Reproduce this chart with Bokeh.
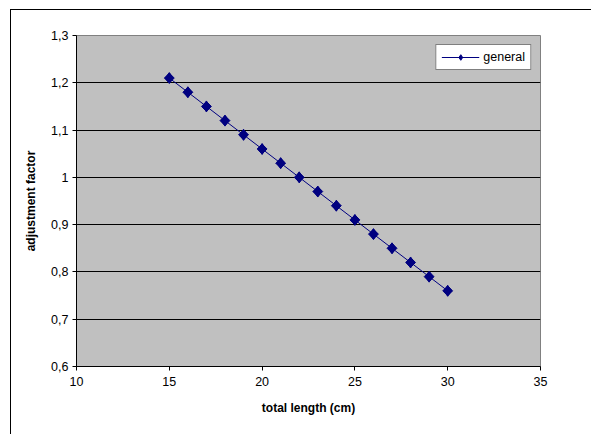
from bokeh.plotting import figure
from bokeh.models import FixedTicker, Legend, LegendItem, Range1d
from bokeh.embed import file_html
from bokeh.resources import INLINE

# Adjustment factor by total length
total_length = [15, 16, 17, 18, 19, 20, 21, 22, 23, 24, 25, 26, 27, 28, 29, 30]
adjustment = [1.21, 1.18, 1.15, 1.12, 1.09, 1.06, 1.03, 1.00,
              0.97, 0.94, 0.91, 0.88, 0.85, 0.82, 0.79, 0.76]
series_name = "general"

x_ticks = [10, 15, 20, 25, 30, 35]
y_ticks = [0.6, 0.7, 0.8, 0.9, 1.0, 1.1, 1.2, 1.3]
y_tick_labels = ["0,6", "0,7", "0,8", "0,9", "1", "1,1", "1,2", "1,3"]

FONT = "Liberation Sans"
NAVY = "#000080"

# chart area starts at (11, 10); its left and top edges carry a border
p = figure(width=581, height=425, output_backend="svg", toolbar_location=None,
           x_range=Range1d(10, 35), y_range=Range1d(0.6, 1.3),
           min_border_left=65, min_border_right=52,
           min_border_top=25, min_border_bottom=69)
p.styles = {"margin-left": "10px", "margin-top": "9px",
            "border-left": "1.5px solid black", "border-top": "1.5px solid black"}

p.background_fill_color = "#C0C0C0"
p.border_fill_color = "white"
p.outline_line_color = "#808080"
p.outline_line_width = 1

# grid: horizontal black lines only
p.xgrid.visible = False
p.ygrid.ticker = FixedTicker(ticks=y_ticks)
p.ygrid.grid_line_color = "black"
p.ygrid.grid_line_width = 1

# axes
p.xaxis.ticker = FixedTicker(ticks=x_ticks)
p.yaxis.ticker = FixedTicker(ticks=y_ticks)
p.yaxis.major_label_overrides = dict(zip(y_ticks, y_tick_labels))
for ax in (p.xaxis, p.yaxis):
    ax.axis_line_color = "black"
    ax.major_tick_line_color = "black"
    ax.major_tick_in = 0
    ax.major_tick_out = 4
    ax.minor_tick_line_color = None
    ax.major_label_text_font = FONT
    ax.major_label_text_font_size = "12.5px"
    ax.major_label_text_color = "black"
    ax.axis_label_text_font = FONT
    ax.axis_label_text_font_size = "12px"
    ax.axis_label_text_font_style = "bold"
    ax.axis_label_text_color = "black"

p.xaxis.axis_label = "total length (cm)"
p.yaxis.axis_label = "adjustment factor"
p.xaxis.major_label_standoff = 6
p.xaxis.axis_label_standoff = 12
p.yaxis.major_label_standoff = 4
p.yaxis.axis_label_standoff = 10

# series line
ln = p.line(total_length, adjustment, line_color=NAVY, line_width=1)
# diamond used as the legend key; it sits fully inside the markers drawn on top
key_mark = p.scatter(total_length, adjustment, marker="diamond", size=11,
                     fill_color=NAVY, line_color=NAVY)
# diamond markers (rotated squares)
mk = p.scatter(total_length, adjustment, marker="square", size=7, angle=0.785398,
               fill_color=NAVY, line_color=NAVY)

legend = Legend(items=[LegendItem(label=series_name, renderers=[ln, key_mark])],
                location="top_right")
legend.label_text_font = FONT
legend.label_text_font_size = "12.5px"
legend.label_text_color = "black"
legend.border_line_color = "black"
legend.border_line_width = 1
legend.background_fill_color = "white"
legend.background_fill_alpha = 1
legend.glyph_width = 38
legend.glyph_height = 14
legend.label_standoff = 4
legend.padding = 5
legend.margin = 9
legend.spacing = 0
legend.label_height = 14
p.add_layout(legend)

open("out.html", "w").write(file_html(p, INLINE))
